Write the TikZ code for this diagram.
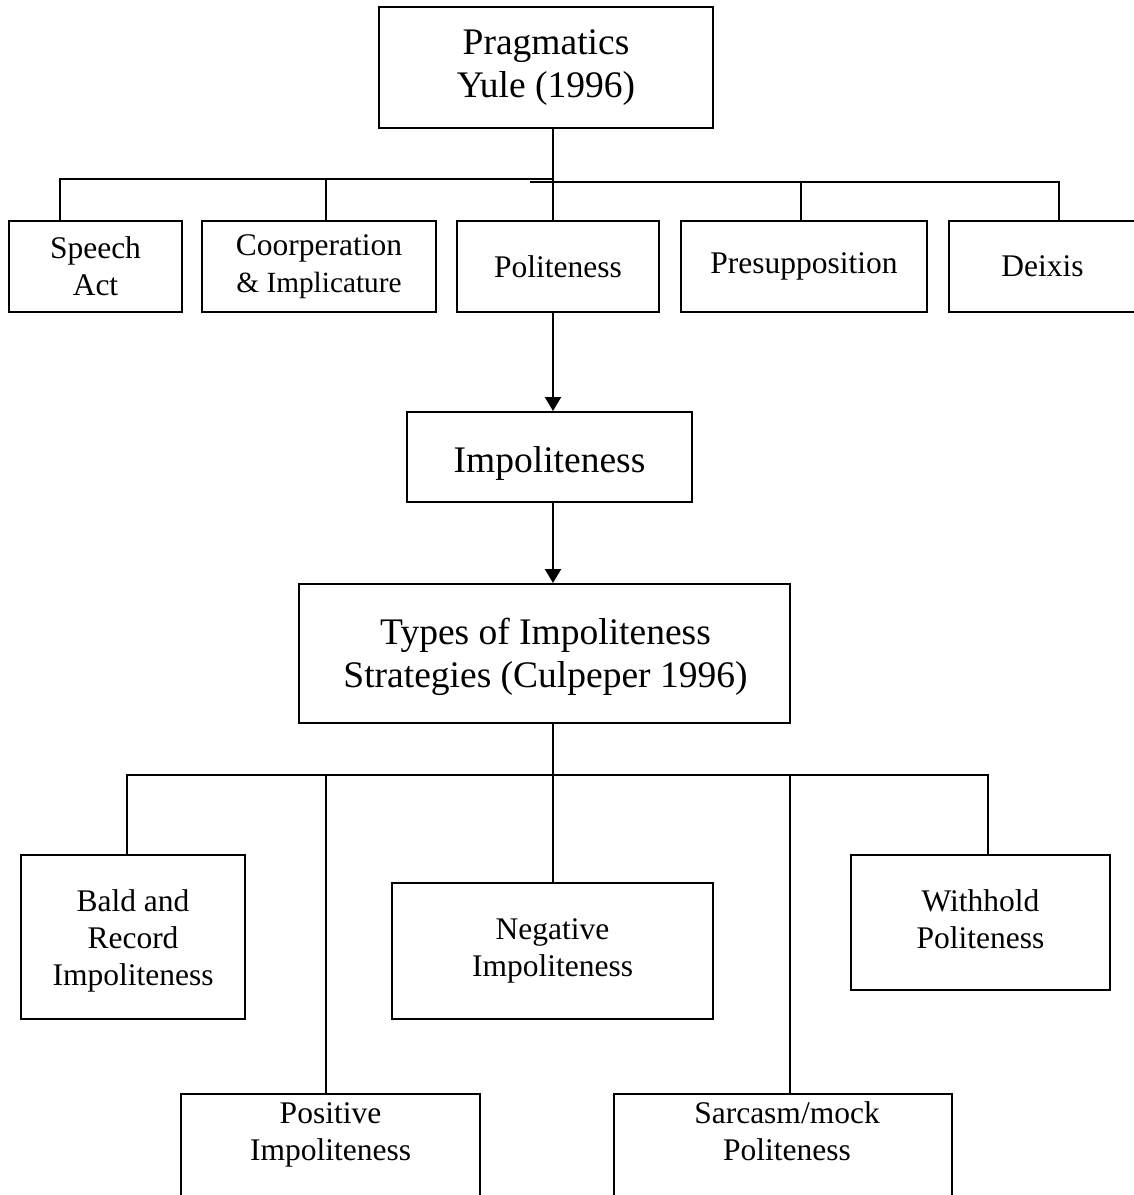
\documentclass[tikz,border=0pt]{standalone}
\usepackage{fontspec}
\setmainfont{Liberation Serif}
\usetikzlibrary{arrows.meta}
\begin{document}
\begin{tikzpicture}[x=0.5pt,y=-0.5pt,
  box/.style={draw, line width=1pt, inner sep=0pt, align=center},
  bigtxt/.style={font=\fontsize{18.75}{21.5}\selectfont},
  smtxt/.style={font=\fontsize{15.75}{18.5}\selectfont},
  txt/.style={inner sep=0pt, align=center, smtxt},
  btxt/.style={inner sep=0pt, align=center, bigtxt},
  conn/.style={line width=1.1pt},
  arr/.style={conn, -{Triangle[length=7pt,width=8pt]}}]
\clip (0,0) rectangle (1134,1195);
\fill[white] (0,0) rectangle (1134,1195);

% top node
\node[box,bigtxt,minimum width=167pt,minimum height=60.5pt] (prag) at (546,67.5) {Pragmatics\\Yule (1996)};

% first level
\node[box,smtxt,minimum width=86.5pt,minimum height=45.5pt] (speech) at (95.5,266.5) {Speech\\Act};
\node[box,smtxt,minimum width=117pt,minimum height=45.5pt] (coop) at (319,266.5) {Coorperation\\{\fontsize{14.65}{18}\selectfont\& Implicature}};
\node[box,smtxt,minimum width=101pt,minimum height=45.5pt] (polite) at (558,266.5) {Politeness};
\node[box,smtxt,minimum width=123pt,minimum height=45.5pt] (presup) at (804,266.5) {Presupposition};
\node[box,smtxt,minimum width=93.5pt,minimum height=45.5pt] (deixis) at (1042.5,266.5) {Deixis};

% bus of first level
\coordinate (pragbus) at (553,179);
\coordinate (busL) at (60,179);
\coordinate (busC) at (326,179);
\coordinate (busM) at (530,182);
\coordinate (busP) at (801,182);
\coordinate (busR) at (1059,182);
\draw[conn] (prag.south -| pragbus) -- (pragbus |- polite.north);
\draw[conn] (speech.north -| busL) -- (busL) -- (pragbus);
\draw[conn] (busC) -- (busC |- coop.north);
\draw[conn] (busM) -- (busR) -- (busR |- deixis.north);
\draw[conn] (busP) -- (busP |- presup.north);

% middle
\node[box,minimum width=142.5pt,minimum height=45pt] (impol) at (549.5,457) {};
\node[btxt] (impolt) at (549.5,463) {Impoliteness};
\node[box,minimum width=245.5pt,minimum height=69.5pt] (types) at (544.5,653.5) {};
\node[btxt] (typest) at (545.5,656.5) {Types of Impoliteness\\Strategies (Culpeper 1996)};
\draw[arr] (polite.south -| pragbus) -- (impol.north -| pragbus);
\draw[arr] (impol.south -| pragbus) -- (types.north -| pragbus);

% second level
\node[box,minimum width=112pt,minimum height=82pt] (bald) at (133,937) {};
\node[txt] (baldt) at (133,941) {Bald and\\Record\\Impoliteness};
\node[box,minimum width=160.5pt,minimum height=68pt] (neg) at (552.5,951) {};
\node[txt] (negt) at (552.5,951) {Negative\\Impoliteness};
\node[box,minimum width=129.5pt,minimum height=67.5pt] (with) at (980.5,922.5) {};
\node[txt] (witht) at (980.5,919) {Withhold\\Politeness};
\node[box,minimum width=149.5pt,minimum height=80pt,anchor=north] (pos) at (330.5,1093) {};
\node[txt] (post) at (330.5,1135) {Positive\\Impoliteness};
\node[box,minimum width=169pt,minimum height=80pt,anchor=north] (sarc) at (783,1093) {};
\node[txt] (sarct) at (787,1131) {Sarcasm/mock\\Politeness};

% bus of second level
\coordinate (lbusA) at (127,775);
\coordinate (lbusB) at (326,775);
\coordinate (lbusC) at (553,775);
\coordinate (lbusD) at (790,775);
\coordinate (lbusE) at (988,775);
\draw[conn] (types.south -| lbusC) -- (lbusC |- neg.north);
\draw[conn] (bald.north -| lbusA) -- (lbusA) -- (lbusE) -- (lbusE |- with.north);
\draw[conn] (lbusB) -- (lbusB |- pos.north);
\draw[conn] (lbusD) -- (lbusD |- sarc.north);
\end{tikzpicture}
\end{document}
